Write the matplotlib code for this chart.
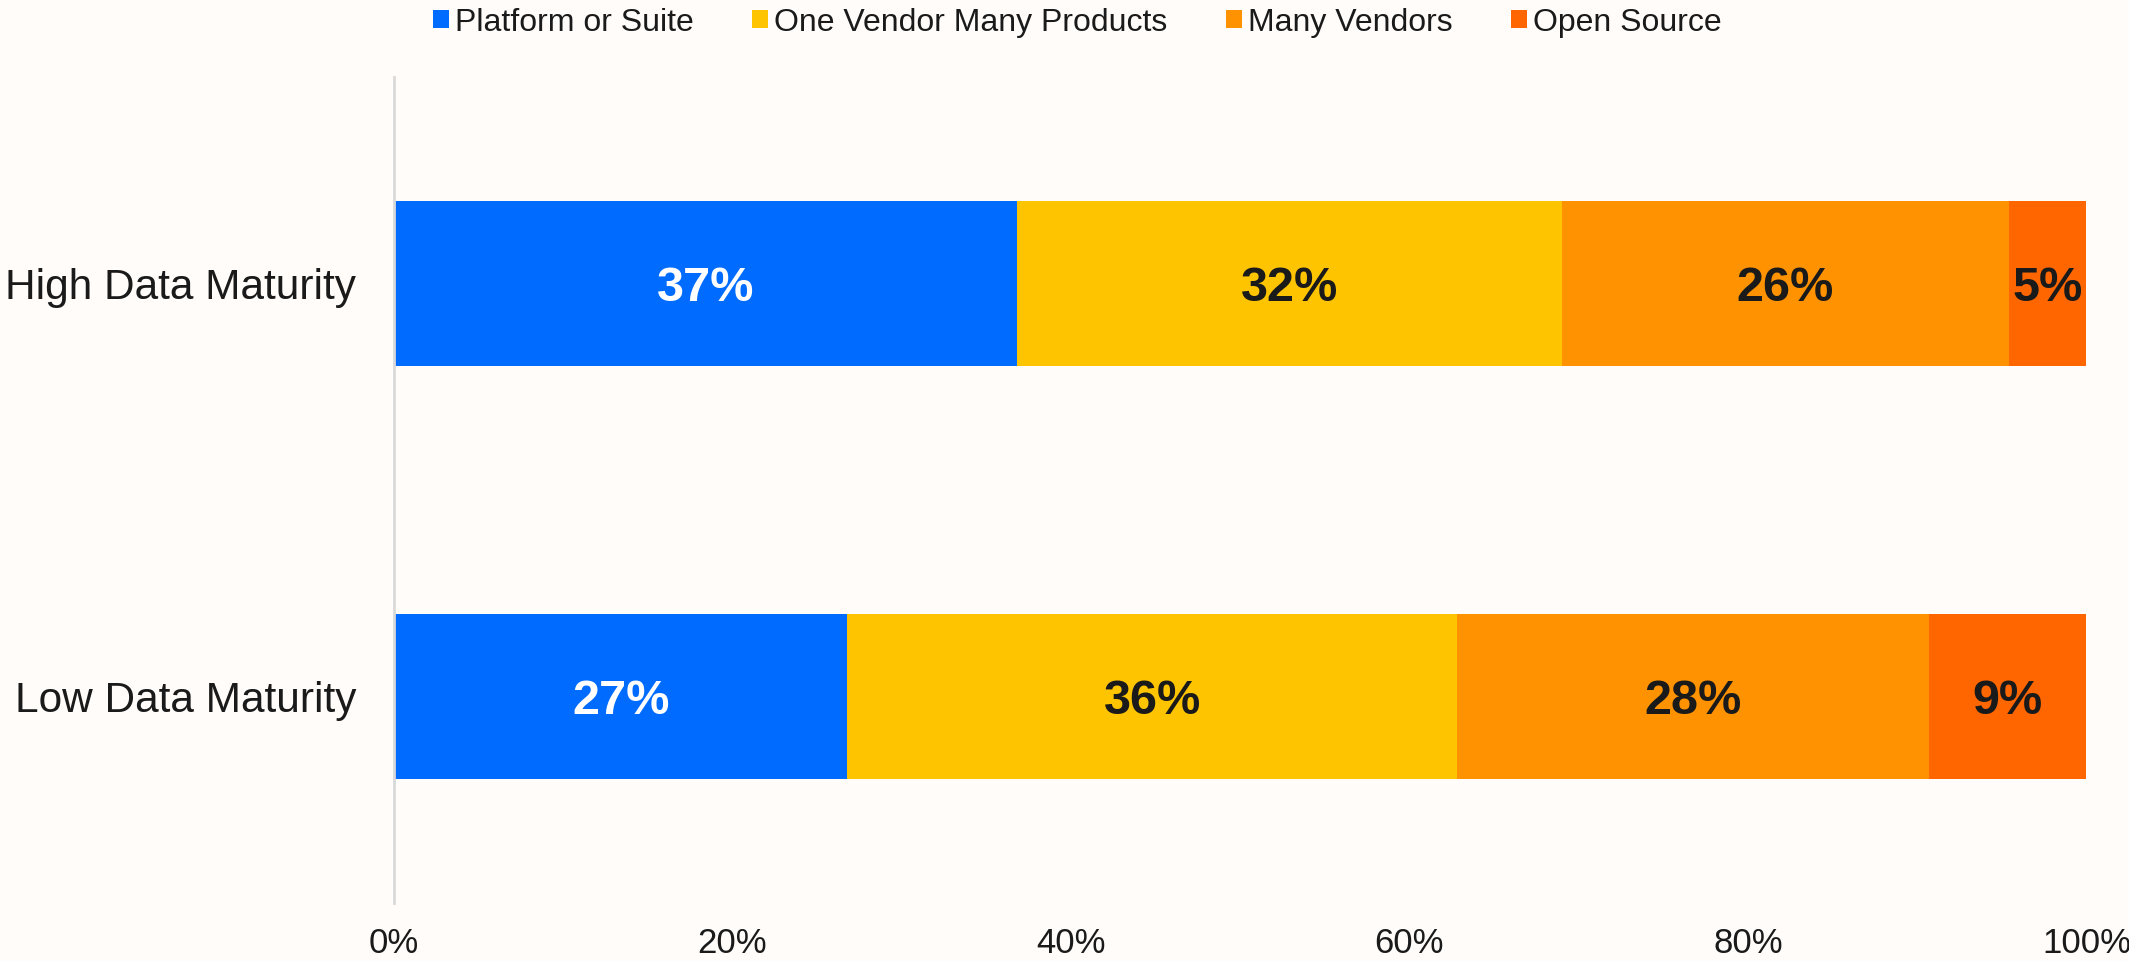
import matplotlib.pyplot as plt
import numpy as np

plt.rcParams['font.family'] = ['Liberation Sans', 'DejaVu Sans']

# data (percent)
groups = ['Low Data Maturity', 'High Data Maturity']
series = ['Platform or Suite', 'One Vendor Many Products', 'Many Vendors', 'Open Source']
platform = [26.8, 36.8]
one_vendor = [36.0, 32.2]
many_vendors = [27.9, 26.4]
open_source = [9.3, 4.6]
colors = ['#006CFF', '#FFC400', '#FF9200', '#FF6600']
label_colors = ['white', '#1a1a1a', '#1a1a1a', '#1a1a1a']
xticks = [0, 20, 40, 60, 80, 100]

bg = '#FFFCFA'
fig = plt.figure(figsize=(21.29, 9.61), dpi=100, facecolor=bg)
ax = fig.add_axes([0.185, 0.060, 0.795, 0.860], facecolor=bg)

y = np.arange(len(groups))
left = np.zeros(len(groups))
for name, vals, c, tc in zip(series, [platform, one_vendor, many_vendors, open_source], colors, label_colors):
    vals = np.array(vals)
    ax.barh(y, vals, left=left, height=0.4, color=c, label=name)
    for yi, l, v in zip(y, left, vals):
        ax.text(l + v / 2, yi, f'{v:.0f}%', ha='center', va='center_baseline',
                color=tc, fontsize=35, fontweight='bold')
    left += vals

ax.set_xlim(0, 100)
ax.set_ylim(-0.5, 1.5)
ax.set_yticks(y)
ax.set_yticklabels(groups, fontsize=30.5, color='#1a1a1a')
ax.set_xticks(xticks)
ax.set_xticklabels([f'{t}%' for t in xticks], fontsize=25, color='#1a1a1a')
ax.tick_params(axis='y', length=0, pad=27)
ax.tick_params(axis='x', length=0, pad=17)
for s in ['top', 'right', 'bottom']:
    ax.spines[s].set_visible(False)
ax.spines['left'].set_color('#d9d9d9')
ax.spines['left'].set_linewidth(2)

fig.legend(loc='upper center', bbox_to_anchor=(0.506, 1.022), ncol=4, frameon=False,
           fontsize=23, handlelength=0.5, handleheight=0.5, handletextpad=0.2,
           columnspacing=1.82, labelcolor='#1a1a1a')

fig.savefig('out.png', dpi=100, facecolor=bg)
